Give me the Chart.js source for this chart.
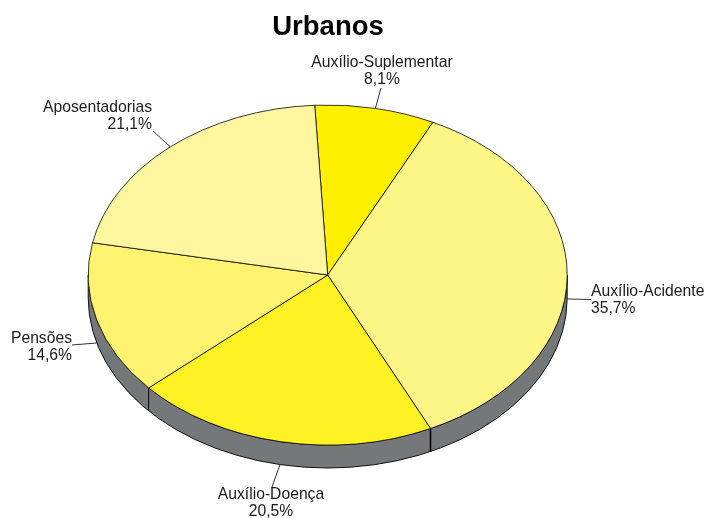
<!DOCTYPE html>
<html>
<head>
<meta charset="utf-8">
<style>
  html, body { margin: 0; padding: 0; background: #fff; }
  canvas { display: block; }
</style>
</head>
<body>
<canvas id="urbanos" width="708" height="518"></canvas>
<script src="https://cdn.jsdelivr.net/npm/chart.js@4/dist/chart.umd.min.js"></script>
<script>
var categories = ['Auxílio-Suplementar', 'Auxílio-Acidente', 'Auxílio-Doença', 'Pensões', 'Aposentadorias'];
var values = [8.1, 35.7, 20.5, 14.6, 21.1];
var sliceColors = ['#fff000', '#fff688', '#fff224', '#fff36f', '#fff7a0'];

// where the ellipse of the pie goes on the page
var pie = { cx: 327.7, cy: 275, rx: 239.5, ry: 170, depth: 23 };
var wallColor = '#75787a';
var labelFont = '15.7px "Liberation Sans", Arial, sans-serif';

// label anchor and end of the leader line, same order as categories
var labelPos = [
    { x: 382, y: 67, align: 'center', endX: 381, endY: 88 },
    { x: 591, y: 296, align: 'left', endX: 591, endY: 299.5 },
    { x: 271, y: 499, align: 'center', endX: 272, endY: 487 },
    { x: 72, y: 343, align: 'right', endX: 72, endY: 345 },
    { x: 152, y: 112, align: 'right', endX: 153, endY: 131 }
];

function pointOnRim(angle, drop) {
    return {
        x: pie.cx + pie.rx * Math.cos(angle),
        y: pie.cy + pie.ry * Math.sin(angle) + drop
    };
}

var pie3d = {
    id: 'pie3d',
    beforeDatasetsDraw: function (chart) {
        var ctx = chart.ctx;
        var arcs = chart.getDatasetMeta(0).data;

        // side wall, lower half of the ellipse only
        ctx.save();
        ctx.beginPath();
        ctx.ellipse(pie.cx, pie.cy + pie.depth, pie.rx, pie.ry, 0, 0, Math.PI);
        ctx.ellipse(pie.cx, pie.cy, pie.rx, pie.ry, 0, Math.PI, 0, true);
        ctx.closePath();
        ctx.fillStyle = wallColor;
        ctx.fill();
        ctx.strokeStyle = '#000';
        ctx.lineWidth = 0.9;
        ctx.stroke();

        arcs.forEach(function (arc) {
            var a = arc.startAngle;
            if (Math.sin(a) > 0) {
                var top = pointOnRim(a, 0);
                ctx.beginPath();
                ctx.moveTo(top.x, top.y);
                ctx.lineTo(top.x, top.y + pie.depth);
                ctx.lineWidth = Math.cos(a) > 0 ? 1.6 : 1;
                ctx.stroke();
            }
        });
        ctx.restore();

        // squash the round pie into the ellipse
        var first = arcs[0];
        ctx.save();
        ctx.translate(pie.cx, pie.cy);
        ctx.scale(pie.rx / first.outerRadius, pie.ry / first.outerRadius);
        ctx.translate(-first.x, -first.y);
    },
    afterDatasetsDraw: function (chart) {
        var ctx = chart.ctx;
        ctx.restore();

        var arcs = chart.getDatasetMeta(0).data;
        ctx.save();
        ctx.font = labelFont;
        ctx.fillStyle = '#1a1a1a';
        ctx.textBaseline = 'alphabetic';
        arcs.forEach(function (arc, i) {
            var mid = (arc.startAngle + arc.endAngle) / 2;
            var start = pointOnRim(mid, Math.sin(mid) > 0 ? pie.depth : 0);
            var p = labelPos[i];

            ctx.beginPath();
            ctx.moveTo(start.x, start.y);
            ctx.lineTo(p.endX, p.endY);
            ctx.strokeStyle = '#333';
            ctx.lineWidth = 1;
            ctx.stroke();

            ctx.textAlign = p.align;
            ctx.fillText(categories[i], p.x, p.y);
            ctx.fillText(values[i].toFixed(1).replace('.', ',') + '%', p.x, p.y + 17);
        });
        ctx.restore();
    }
};

var ctx = document.getElementById('urbanos');
var urbanosChart = new Chart(ctx, {
    type: 'pie',
    data: {
        labels: categories,
        datasets: [{
            data: values,
            backgroundColor: sliceColors,
            borderColor: '#000',
            borderWidth: 0.9,
            clip: false
        }]
    },
    options: {
        responsive: false,
        animation: false,
        rotation: -3.1,
        layout: { padding: { left: 0, right: 52, top: 0, bottom: 0 } },
        plugins: {
            legend: { display: false },
            tooltip: { enabled: false },
            title: {
                display: true,
                text: 'Urbanos',
                fullSize: false,
                color: '#000',
                font: { family: '"Liberation Sans", Arial, sans-serif', size: 27.5, weight: 'bold', lineHeight: 1 },
                padding: { top: 14, bottom: 2 }
            }
        }
    },
    plugins: [pie3d]
});
</script>
</body>
</html>
